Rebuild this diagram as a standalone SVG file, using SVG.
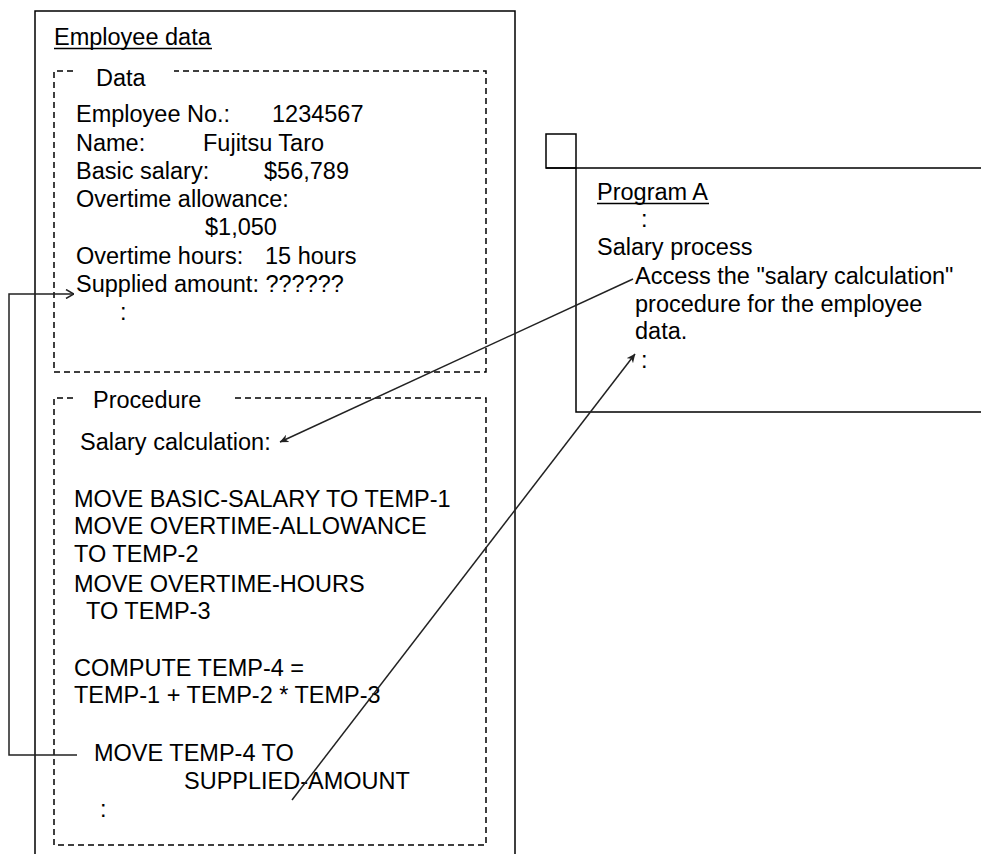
<svg xmlns="http://www.w3.org/2000/svg" width="981" height="854" viewBox="0 0 981 854">
<style>
text{font-family:"Liberation Sans",Arial,sans-serif;font-size:23.5px;fill:#000}
.solid{fill:none;stroke:#000;stroke-width:1.5}
.dash{fill:none;stroke:#000;stroke-width:1.5;stroke-dasharray:6 4}
.conn{fill:none;stroke:#222;stroke-width:1.5}
.ul{stroke:#000;stroke-width:1.5}
</style>
<defs>
<marker id="arr" viewBox="0 0 10 10" refX="9.5" refY="5" markerWidth="9" markerHeight="9" markerUnits="userSpaceOnUse" orient="auto">
<path d="M0,0.5 L10,5 L0,9.5 L3,5 Z" fill="#222"/>
</marker>
<marker id="open" viewBox="0 0 10 10" refX="10" refY="5" markerWidth="10" markerHeight="10" markerUnits="userSpaceOnUse" orient="auto">
<path d="M2,0.5 L10,5 L2,9.5" fill="none" stroke="#222" stroke-width="1.5"/>
</marker>
</defs>

<g id="employee-data">
<path class="solid" d="M35,854 V11 H515 V854"/>
<text x="54" y="45">Employee data</text>
<line class="ul" x1="54" y1="48.5" x2="212" y2="48.5"/>
</g>

<g id="data">
<path class="dash" d="M73,71 H54 V372 H486 V71 H174"/>
<text x="96" y="86">Data</text>
<text x="76" y="122">Employee No.:</text>
<text x="272" y="122">1234567</text>
<text x="76" y="151">Name:</text>
<text x="203" y="151">Fujitsu Taro</text>
<text x="76" y="179">Basic salary:</text>
<text x="264" y="179">$56,789</text>
<text x="76" y="207">Overtime allowance:</text>
<text x="205" y="235">$1,050</text>
<text x="76" y="264">Overtime hours:</text>
<text x="265" y="264">15 hours</text>
<text x="76" y="292">Supplied amount: ??????</text>
<text x="120" y="320">:</text>
</g>

<g id="procedure">
<path class="dash" d="M73,398 H54 V845 H486 V398 H232"/>
<text x="93" y="408">Procedure</text>
<text x="80" y="450">Salary calculation:</text>
<text x="74" y="507">MOVE BASIC-SALARY TO TEMP-1</text>
<text x="74" y="534">MOVE OVERTIME-ALLOWANCE</text>
<text x="74" y="562">TO TEMP-2</text>
<text x="74" y="592">MOVE OVERTIME-HOURS</text>
<text x="86" y="619">TO TEMP-3</text>
<text x="74" y="676">COMPUTE TEMP-4 =</text>
<text x="74" y="703">TEMP-1 + TEMP-2 * TEMP-3</text>
<text x="94" y="761">MOVE TEMP-4 TO</text>
<text x="184" y="789">SUPPLIED-AMOUNT</text>
<text x="100" y="817">:</text>
</g>

<g id="program-a">
<rect class="solid" x="546" y="134" width="30" height="34"/>
<path class="solid" d="M546,168 H981 M576,168 V412 H981"/>
<text x="597" y="200">Program A</text>
<line class="ul" x1="597" y1="203.5" x2="709" y2="203.5"/>
<text x="641" y="227">:</text>
<text x="597" y="255">Salary process</text>
<text x="635" y="284">Access the "salary calculation"</text>
<text x="635" y="312">procedure for the employee</text>
<text x="635" y="339">data.</text>
<text x="641" y="368">:</text>
</g>

<g id="connectors">
<path class="conn" d="M77,755 H9 V294 H74" marker-end="url(#open)"/>
<line class="conn" x1="633" y1="279" x2="280" y2="442" marker-end="url(#arr)"/>
<line class="conn" x1="292" y1="800" x2="635" y2="354" marker-end="url(#arr)"/>
</g>
</svg>
